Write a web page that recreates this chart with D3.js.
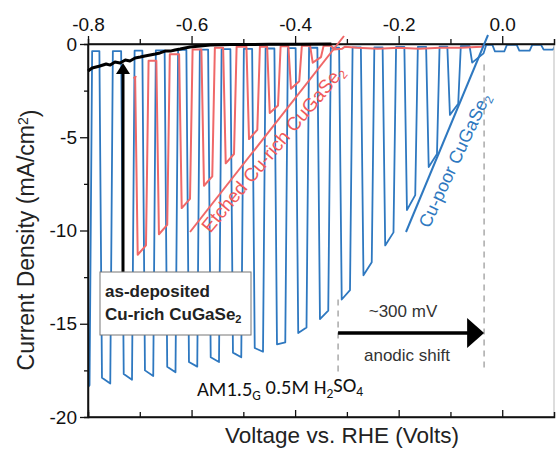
<!DOCTYPE html>
<html><head><meta charset="utf-8">
<script src="https://cdn.jsdelivr.net/npm/d3@7/dist/d3.min.js"></script>
<style>body{margin:0;background:#fff}svg{display:block}</style>
</head><body>
<svg id="c" width="558" height="454"></svg>
<script>
// ---------- data ----------
const xTicks = [-0.8, -0.6, -0.4, -0.2, 0.0];
const xTickLabels = ["-0.8", "-0.6", "-0.4", "-0.2", "0.0"];
const xMinorTicks = [-0.7, -0.5, -0.3, -0.1];
const yTicks = [0, -5, -10, -15, -20];
const yTickLabels = ["0", "-5", "-10", "-15", "-20"];
const yMinorTicks = [-2.5, -7.5, -12.5, -17.5];

// Cu-poor CuGaSe2 (blue) chopped-light sweep: light-on / light-off voltages and currents
const blueOnV  = [-0.800,-0.773,-0.731,-0.690,-0.647,-0.605,-0.563,-0.520,-0.478,-0.435,-0.394,-0.352,-0.310,-0.268,-0.226,-0.184,-0.142,-0.101,-0.058,-0.014,0.033,0.080];
const blueOffV = [-0.797,-0.757,-0.715,-0.674,-0.631,-0.589,-0.547,-0.504,-0.462,-0.419,-0.378,-0.336,-0.294,-0.252,-0.210,-0.168,-0.126,-0.085,-0.036,0.004,0.053,0.098];
const blueOnJ  = [-18.4,-17.9,-17.7,-17.5,-17.3,-17.05,-16.8,-16.55,-16.3,-16.1,-15.5,-14.75,-13.7,-12.4,-10.8,-8.9,-6.6,-3.8,-1.0,-0.4,-0.35,-0.3];
const blueOffJ = [-18.3,-18.2,-18.0,-17.8,-17.6,-17.3,-17.05,-16.8,-16.5,-16.0,-15.2,-14.3,-13.2,-11.7,-10.1,-8.1,-5.9,-3.2,-0.5,-0.4,-0.35,-0.3];
const blueDarkJ = [-0.38,-0.38,-0.36,-0.34,-0.32,-0.3,-0.28,-0.26,-0.24,-0.22,-0.2,-0.2,-0.18,-0.18,-0.16,-0.15,-0.14,-0.12,-0.05,-0.05,-0.05,-0.05];

// Etched Cu-rich CuGaSe2 (red)
const redStartV = [-0.712, -0.708];
const redStartJ = [-1.85, -1.75];
const redOnV  = [-0.704,-0.663,-0.619,-0.576,-0.534,-0.489,-0.449,-0.408,-0.366,-0.325];
const redOffV = [-0.688,-0.647,-0.603,-0.560,-0.518,-0.473,-0.433,-0.392,-0.350,-0.309];
const redOnJ  = [-11.3,-10.2,-8.8,-7.6,-6.4,-5.1,-3.7,-2.4,-1.0,-0.3];
const redOffJ = [-10.8,-9.7,-8.3,-7.1,-5.9,-4.6,-3.3,-2.0,-0.7,-0.25];
const redDarkJ = [-0.9,-0.55,-0.3,-0.2,-0.15,-0.15,-0.12,-0.1,-0.1,-0.15];
const redTailV = [-0.28,-0.24,-0.20,-0.16,-0.12,-0.08,-0.04,-0.035];
const redTailJ = [-0.2,-0.25,-0.2,-0.25,-0.2,-0.2,-0.15,-0.05];

// as-deposited Cu-rich CuGaSe2 (black)
const blackV = [-0.800,-0.792,-0.777,-0.765,-0.757,-0.748,-0.738,-0.728,-0.719,-0.709,-0.699,-0.690,-0.680,-0.670,-0.661,-0.651,-0.641,-0.632,-0.622,-0.603,-0.583,-0.564,-0.525,-0.45,-0.40,-0.33];
const blackJ = [-1.45,-1.29,-1.18,-1.07,-1.13,-0.97,-1.02,-0.86,-0.91,-0.75,-0.70,-0.64,-0.59,-0.54,-0.48,-0.38,-0.38,-0.32,-0.27,-0.16,-0.11,-0.05,-0.03,-0.02,-0.01,0];

// onset markers (anodic shift ~300 mV)
const onsetV = [-0.317, -0.035];
const onsetTopJ = [-13.7, -1.1];
const onsetBottomJ = [-17.6, -17.6];
const shiftArrowJ = -15.5;

// ---------- chart ----------
const svg = d3.select('#c');
const FONT = "'Liberation Sans', Arial, Helvetica, sans-serif";
const x = d3.scaleLinear().domain([-0.8, 0.1]).range([88, 554]);
const y = d3.scaleLinear().domain([-20, 0]).range([417, 44]);
const line = d3.line().x(d => x(d[0])).y(d => y(d[1]));
const EDGE = 0.005;

function chop(start, onV, offV, onJ, offJ, darkJ, tail) {
  const pts = start.slice();
  let prev = pts.length ? pts[pts.length - 1][1] : null;
  for (let i = 0; i < onV.length; i++) {
    if (prev !== null) pts.push([onV[i] - EDGE, prev]);
    pts.push([onV[i], onJ[i]]);
    pts.push([offV[i], offJ[i]]);
    pts.push([offV[i] + EDGE, darkJ[i]]);
    prev = darkJ[i];
  }
  return pts.concat(tail);
}

svg.append('defs').append('clipPath').attr('id', 'clip')
  .append('rect').attr('x', x(-0.8)).attr('y', 30).attr('width', x(0.1) - x(-0.8)).attr('height', 400);

const blue = '#2e78c0', red = '#f06868';

const plot = svg.append('g').attr('clip-path', 'url(#clip)');
const bluePts = chop([], blueOnV, blueOffV, blueOnJ, blueOffJ, blueDarkJ, []);
plot.append('path').attr('d', line(bluePts)).attr('fill', 'none')
  .attr('stroke', blue).attr('stroke-width', 1.8).attr('stroke-linejoin', 'round');

const redPts = chop(redStartV.map((v, i) => [v, redStartJ[i]]), redOnV, redOffV, redOnJ, redOffJ, redDarkJ,
  redTailV.map((v, i) => [v, redTailJ[i]]));
plot.append('path').attr('d', line(redPts)).attr('fill', 'none')
  .attr('stroke', red).attr('stroke-width', 2).attr('stroke-linejoin', 'round');

// dashed onset lines
svg.selectAll('.onset').data(onsetV).enter().append('line')
  .attr('x1', d => x(d)).attr('x2', d => x(d))
  .attr('y1', (d, i) => y(onsetTopJ[i])).attr('y2', (d, i) => y(onsetBottomJ[i]))
  .attr('stroke', '#aaa').attr('stroke-width', 1.5).attr('stroke-dasharray', '6,5');

// axes frame
svg.append('line').attr('x1', 554).attr('x2', 554).attr('y1', 44).attr('y2', 417).attr('stroke', '#bbb').attr('stroke-width', 1);
const axT = svg.append('g').attr('transform', `translate(0,${y(0)})`);
axT.call(d3.axisTop(x).tickValues(xTicks).tickSize(8).tickFormat((d, i) => xTickLabels[i]));
axT.append('g').call(d3.axisTop(x).tickValues(xMinorTicks).tickSize(5).tickFormat(''));
const axB = svg.append('g').attr('transform', `translate(0,${y(-20)})`);
axB.call(d3.axisTop(x).tickValues(xTicks).tickSize(7).tickFormat(''));
axB.append('g').call(d3.axisTop(x).tickValues(xMinorTicks).tickSize(5).tickFormat(''));
const axL = svg.append('g').attr('transform', `translate(${x(-0.8)},0)`);
axL.call(d3.axisLeft(y).tickValues(yTicks).tickSize(8).tickPadding(3).tickFormat((d, i) => yTickLabels[i]));
axL.append('g').call(d3.axisLeft(y).tickValues(yMinorTicks).tickSize(4).tickFormat(''));
svg.selectAll('.domain').attr('stroke', '#111').attr('stroke-width', 1.5);
svg.selectAll('.tick line').attr('stroke', '#111').attr('stroke-width', 1.3);
axT.selectAll('.tick text').attr('font-size', 19).attr('font-family', FONT).attr('fill', '#111').attr('dy', '-0.1em');
axL.selectAll('.tick text').attr('font-size', 19).attr('font-family', FONT).attr('fill', '#111');
axB.select('.domain').attr('d', `M${x(-0.8)},0H${x(0.1)}`);
axT.select('.domain').attr('d', `M${x(-0.8)},0H${x(0.1)}`);
axL.select('.domain').attr('d', `M0,${y(0)}V${y(-20)}`);

// black as-deposited curve
svg.append('path').attr('d', line(blackV.map((v, i) => [v, blackJ[i]])))
  .attr('fill', 'none').attr('stroke', '#000').attr('stroke-width', 3).attr('stroke-linejoin', 'round');

// axis titles
const yt = svg.append('text').attr('transform', 'translate(34,240) rotate(-90)')
  .attr('text-anchor', 'middle').attr('font-family', FONT).attr('font-size', 23).attr('fill', '#222');
yt.append('tspan').text('Current Density (mA/cm');
yt.append('tspan').attr('dy', '-0.45em').attr('font-size', '14').text('2');
yt.append('tspan').attr('dy', '0.45em').text(')');
svg.append('text').attr('x', 342).attr('y', 443).attr('text-anchor', 'middle')
  .attr('font-family', FONT).attr('font-size', 22.5).attr('fill', '#222').text('Voltage vs. RHE (Volts)');

// labels for series
svg.append('line').attr('x1', 190).attr('y1', 232).attr('x2', 344).attr('y2', 36)
  .attr('stroke', red).attr('stroke-width', 2);
const rl = svg.append('text').attr('transform', 'translate(278,153) rotate(-50)')
  .attr('text-anchor', 'middle').attr('font-family', FONT).attr('font-size', 19).attr('fill', '#f05a5a');
rl.append('tspan').text('Etched Cu-rich CuGaSe');
rl.append('tspan').attr('dy', '0.3em').attr('font-size', 12).text('2');

svg.append('line').attr('x1', 406).attr('y1', 232).attr('x2', 488).attr('y2', 35)
  .attr('stroke', blue).attr('stroke-width', 2);
const bl = svg.append('text').attr('transform', 'translate(460,163) rotate(-65)')
  .attr('text-anchor', 'middle').attr('font-family', FONT).attr('font-size', 18).attr('fill', blue);
bl.append('tspan').text('Cu-poor CuGaSe');
bl.append('tspan').attr('dy', '0.3em').attr('font-size', 11.5).text('2');

// vertical arrow to as-deposited curve
svg.append('line').attr('x1', 123).attr('x2', 123).attr('y1', 272).attr('y2', 72).attr('stroke', '#000').attr('stroke-width', 3);
svg.append('path').attr('d', 'M123,63L130,74L116,74Z').attr('fill', '#000');

// box
svg.append('rect').attr('x', 100).attr('y', 272).attr('width', 151).attr('height', 63)
  .attr('fill', '#fff').attr('stroke', '#777').attr('stroke-width', 1);
svg.append('text').attr('x', 105).attr('y', 297).attr('font-family', FONT).attr('font-weight', 'bold')
  .attr('font-size', 17).attr('fill', '#222').text('as-deposited');
const bt = svg.append('text').attr('x', 105).attr('y', 320).attr('font-family', FONT).attr('font-weight', 'bold')
  .attr('font-size', 17).attr('fill', '#222');
bt.append('tspan').text('Cu-rich CuGaSe');
bt.append('tspan').attr('dy', '0.3em').attr('font-size', 11).text('2');

// anodic shift arrow
svg.append('line').attr('x1', x(onsetV[0])).attr('x2', x(onsetV[1]) - 14)
  .attr('y1', y(shiftArrowJ)).attr('y2', y(shiftArrowJ)).attr('stroke', '#000').attr('stroke-width', 3.5);
svg.append('path').attr('d', `M${x(onsetV[1])},${y(shiftArrowJ)}L${x(onsetV[1]) - 17},${y(shiftArrowJ) - 15}L${x(onsetV[1]) - 17},${y(shiftArrowJ) + 15}Z`).attr('fill', '#000');
svg.append('text').attr('x', 403).attr('y', 317).attr('text-anchor', 'middle').attr('font-family', FONT)
  .attr('font-size', 17).attr('fill', '#333').text('~300 mV');
svg.append('text').attr('x', 407).attr('y', 361).attr('text-anchor', 'middle').attr('font-family', FONT)
  .attr('font-size', 17).attr('fill', '#333').text('anodic shift');

// conditions text
const am = svg.append('text').attr('x', 197).attr('y', 396).attr('font-family', "Carlito, Calibri, Lato, sans-serif")
  .attr('font-size', 20.5).attr('fill', '#111');
am.append('tspan').text('AM1.5');
am.append('tspan').attr('dy', '0.3em').attr('font-size', 13.5).text('G');
am.append('tspan').attr('dy', '-0.3em').text(' 0.5M H');
am.append('tspan').attr('dy', '0.3em').attr('font-size', 13.5).text('2');
am.append('tspan').attr('dy', '-0.3em').text('SO');
am.append('tspan').attr('dy', '0.3em').attr('font-size', 13.5).text('4');
</script>
</body></html>
